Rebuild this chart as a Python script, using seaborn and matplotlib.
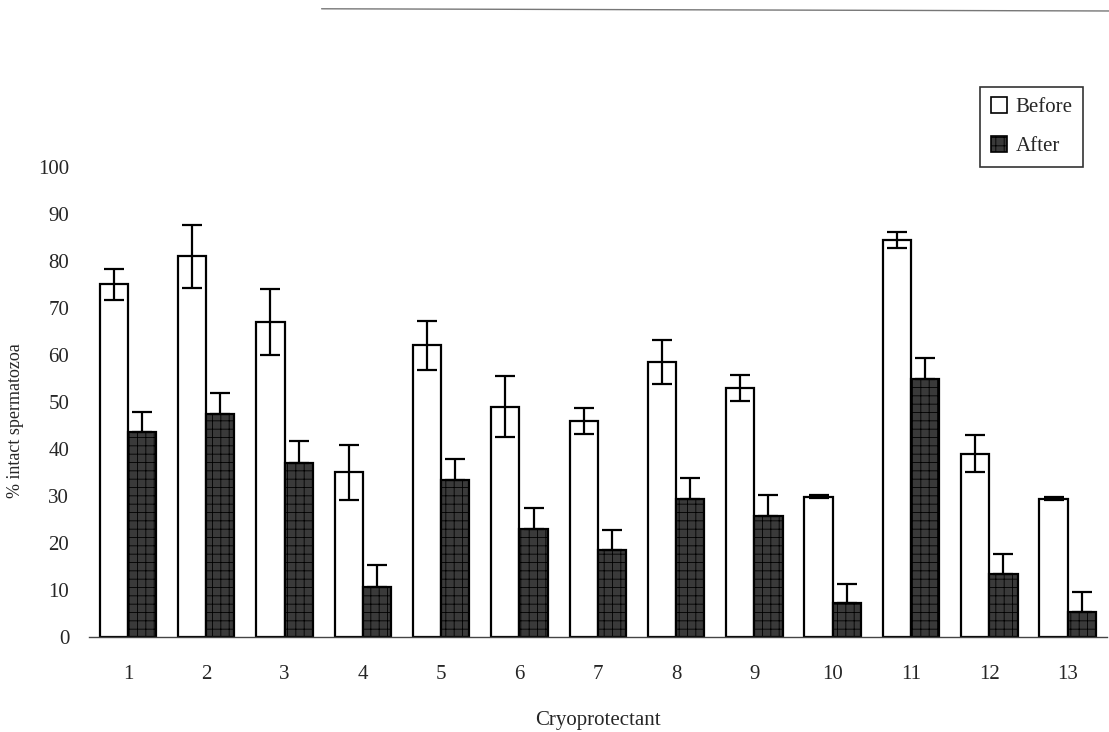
import matplotlib
matplotlib.use("Agg")
import matplotlib.pyplot as plt
from matplotlib.lines import Line2D
from matplotlib.patches import Patch
import seaborn as sns
import pandas as pd
import numpy as np

categories = [str(i) for i in range(1, 14)]
before = [75.0, 81.0, 67.0, 35.0, 62.0, 49.0, 46.0, 58.5, 53.0, 29.8, 84.5, 39.0, 29.4]
before_err = [3.3, 6.7, 7.1, 5.8, 5.2, 6.5, 2.8, 4.6, 2.8, 0.3, 1.7, 3.9, 0.3]
after = [43.5, 47.5, 37.0, 10.7, 33.4, 23.0, 18.4, 29.4, 25.7, 7.1, 54.9, 13.4, 5.3]
after_err = [4.3, 4.3, 4.6, 4.6, 4.4, 4.4, 4.3, 4.4, 4.4, 4.1, 4.4, 4.3, 4.3]
series = ["Before", "After"]
yticks = list(range(0, 101, 10))

sns.set_theme(style="white")
plt.rcParams["font.family"] = ["Liberation Serif", "DejaVu Serif"]
plt.rcParams["hatch.color"] = "#9a9a9a"
plt.rcParams["hatch.linewidth"] = 0.6

df = pd.DataFrame({
    "Cryoprotectant": categories * 2,
    "value": before + after,
    "group": [series[0]] * 13 + [series[1]] * 13,
})

fig = plt.figure(figsize=(11.09, 7.32), dpi=100)
ax = fig.add_axes([0.080, 0.130, 0.918, 0.642])

sns.barplot(data=df, x="Cryoprotectant", y="value", hue="group",
            order=categories, hue_order=series, errorbar=None,
            width=0.72, gap=0, palette=["white", "#3a3a3a"],
            edgecolor="black", linewidth=1.6, legend=False, ax=ax)

bars = list(ax.patches)[:26]
b_bars = bars[:13]
a_bars = bars[13:26]
for p in a_bars:
    p.set_hatch("++")
    p.set_edgecolor("black")

bx = [p.get_x() + p.get_width() / 2 for p in b_bars]
axx = [p.get_x() + p.get_width() / 2 for p in a_bars]
ax.errorbar(bx, before, yerr=before_err, fmt="none", ecolor="black",
            elinewidth=1.6, capsize=7, capthick=1.6, zorder=5)
ax.errorbar(axx, after, yerr=[np.zeros(13), after_err], fmt="none",
            ecolor="black", elinewidth=1.6, capsize=7, capthick=1.6, zorder=5)

ax.set_ylim(0, 100)
ax.set_xlim(-0.5, 12.5)
ax.set_yticks(yticks)
ax.set_yticklabels([str(t) for t in yticks], fontsize=15)
ax.tick_params(axis="x", length=0, labelsize=15, pad=20)
ax.tick_params(axis="y", length=0, pad=14)
ax.set_xticks(range(13), minor=False)
ax.set_xticks(np.arange(0.5, 12.5, 1.0), minor=True)
ax.tick_params(axis="x", which="minor", length=6, width=0.8, color="#555555", direction="out")
ax.set_xlabel("Cryoprotectant", fontsize=15, labelpad=20)
ax.set_ylabel("% intact spermatozoa", fontsize=13)
ax.yaxis.set_label_coords(-0.064, 0.46)

for s in ["top", "right", "left"]:
    ax.spines[s].set_visible(False)
ax.spines["bottom"].set_color("#444444")
ax.spines["bottom"].set_linewidth(1.0)

handles = [Patch(facecolor="white", edgecolor="black", linewidth=1.2),
           Patch(facecolor="#3a3a3a", edgecolor="black", hatch="++", linewidth=1.2)]
leg = fig.legend(handles, series, loc="upper right", bbox_to_anchor=(0.986, 0.896),
                 fontsize=15, frameon=True, fancybox=False, edgecolor="black",
                 handlelength=0.8, handleheight=0.8, handletextpad=0.4,
                 borderpad=0.5, labelspacing=0.9)
leg.get_frame().set_linewidth(1.2)

fig.add_artist(Line2D([0.29, 1.0], [0.988, 0.985], color="#777777", linewidth=1.0))

fig.savefig("out.png", dpi=100)
